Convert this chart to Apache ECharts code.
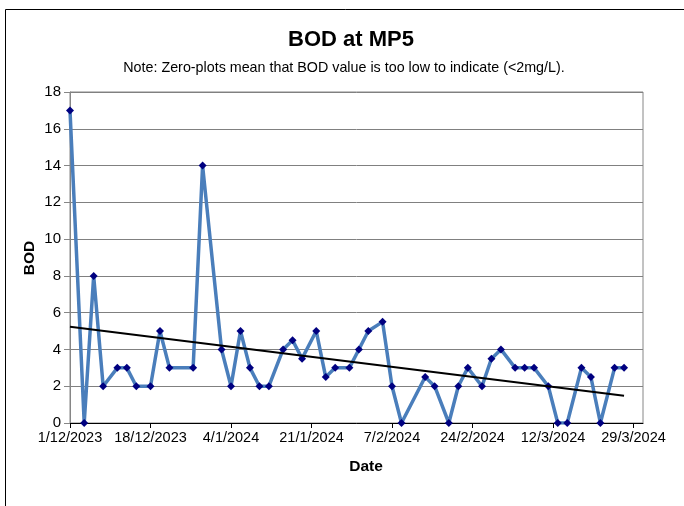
<!DOCTYPE html>
<html>
<head>
<meta charset="utf-8">
<script src="https://cdn.jsdelivr.net/npm/echarts@6/dist/echarts.min.js"></script>
<style>
html,body{margin:0;padding:0;background:#fff;}
#chart{width:684px;height:506px;}
</style>
</head>
<body>
<div id="chart"></div>
<script>
// ---- data ----
const sampleDates = [
  '2023-12-01','2023-12-04','2023-12-06','2023-12-08','2023-12-11','2023-12-13','2023-12-15',
  '2023-12-18','2023-12-20','2023-12-22','2023-12-27','2023-12-29','2024-01-02','2024-01-04',
  '2024-01-06','2024-01-08','2024-01-10','2024-01-12','2024-01-15','2024-01-17','2024-01-19',
  '2024-01-22','2024-01-24','2024-01-26','2024-01-29','2024-01-31','2024-02-02','2024-02-05',
  '2024-02-07','2024-02-09','2024-02-14','2024-02-16','2024-02-19','2024-02-21','2024-02-23',
  '2024-02-26','2024-02-28','2024-03-01','2024-03-04','2024-03-06','2024-03-08','2024-03-11',
  '2024-03-13','2024-03-15','2024-03-18','2024-03-20','2024-03-22','2024-03-25','2024-03-27'
];
const bodValues = [
  17, 0, 8, 2, 3, 3, 2,
  2, 5, 3, 3, 14, 4, 2,
  5, 3, 2, 2, 4, 4.5, 3.5,
  5, 2.5, 3, 3, 4, 5, 5.5,
  2, 0, 2.5, 2, 0, 2, 3,
  2, 3.5, 4, 3, 3, 3, 2,
  0, 0, 3, 2.5, 0, 3, 3
];
const xTickLabels = ['1/12/2023','18/12/2023','4/1/2024','21/1/2024','7/2/2024','24/2/2024','12/3/2024','29/3/2024'];
const yTicks = [0, 2, 4, 6, 8, 10, 12, 14, 16, 18];
const axisStartDate = '2023-12-01';
const axisEndDate = '2024-03-31';
const titleText = 'BOD at MP5';
const subtitleText = 'Note: Zero-plots mean that BOD value is too low to indicate (<2mg/L).';
const xName = 'Date';
const yName = 'BOD';

// ---- helpers ----
const DAY = 86400000;
const t0 = Date.parse(axisStartDate);
const isoToDay = s => Math.round((Date.parse(s) - t0) / DAY);
const dmyToDay = s => { const p = s.split('/'); return isoToDay(p[2] + '-' + p[1].padStart(2,'0') + '-' + p[0].padStart(2,'0')); };

const xs = sampleDates.map(isoToDay);
const points = xs.map((d, i) => [d, bodValues[i]]);
const tickDays = xTickLabels.map(dmyToDay);
const xMax = isoToDay(axisEndDate);

// linear trendline (least squares)
const n = xs.length;
const mx = xs.reduce((a,b)=>a+b,0)/n;
const my = bodValues.reduce((a,b)=>a+b,0)/n;
let sxy = 0, sxx = 0;
for (let i = 0; i < n; i++) { sxy += (xs[i]-mx)*(bodValues[i]-my); sxx += (xs[i]-mx)*(xs[i]-mx); }
const slope = sxy / sxx, icpt = my - slope * mx;
const trend = [[xs[0], icpt + slope*xs[0]], [xs[n-1], icpt + slope*xs[n-1]]];

const FONT = '"Liberation Sans", Arial, sans-serif';
const chart = echarts.init(document.getElementById('chart'), null, {renderer: 'canvas'});
chart.setOption({
  animation: false,
  backgroundColor: '#fff',
  grid: {left: 70, top: 92, width: 573, height: 331, show: true, borderColor: '#868686', borderWidth: 1, backgroundColor: 'transparent', containLabel: false},
  xAxis: {
    type: 'value', min: 0, max: xMax,
    axisLine: {show: true, onZero: false, lineStyle: {color: '#000', width: 1}},
    axisTick: {show: true, inside: false, length: 5, lineStyle: {color: '#000'}, customValues: tickDays},
    axisLabel: {show: true, customValues: tickDays, margin: 7, color: '#000', fontFamily: FONT, fontSize: 14.5,
      formatter: v => { const i = tickDays.indexOf(Math.round(v)); return i >= 0 ? xTickLabels[i] : ''; }},
    splitLine: {show: false}
  },
  yAxis: {
    type: 'value', min: yTicks[0], max: yTicks[yTicks.length-1], interval: yTicks[1]-yTicks[0],
    axisLine: {show: true, lineStyle: {color: '#868686'}},
    axisTick: {show: true, inside: false, length: 6, lineStyle: {color: '#868686'}},
    axisLabel: {color: '#000', fontFamily: FONT, fontSize: 15, margin: 9},
    splitLine: {show: true, lineStyle: {color: '#808080', width: 1}}
  },
  series: [
    {
      type: 'line', data: points, z: 3,
      lineStyle: {color: '#4A7EBB', width: 3.5},
      symbol: 'diamond', symbolSize: 8,
      itemStyle: {color: '#000080', borderWidth: 0},
      emphasis: {disabled: true}
    },
    {
      type: 'line', data: trend, z: 4, symbol: 'none',
      lineStyle: {color: '#000', width: 2},
      emphasis: {disabled: true}
    }
  ],
  graphic: [
    {type: 'rect', shape: {x: 5.5, y: 9.5, width: 720, height: 520}, style: {fill: 'none', stroke: '#000', lineWidth: 1}, silent: true},
    {type: 'text', x: 351, y: 40, style: {text: titleText, fontFamily: FONT, fontWeight: 'bold', fontSize: 22, fill: '#000', textAlign: 'center', textVerticalAlign: 'middle'}},
    {type: 'text', x: 344, y: 68, style: {text: subtitleText, fontFamily: FONT, fontSize: 14.3, fill: '#000', textAlign: 'center', textVerticalAlign: 'middle'}},
    {type: 'text', x: 366, y: 467, style: {text: xName, fontFamily: FONT, fontWeight: 'bold', fontSize: 15.5, fill: '#000', textAlign: 'center', textVerticalAlign: 'middle'}},
    {type: 'text', x: 30, y: 258, rotation: Math.PI/2, style: {text: yName, fontFamily: FONT, fontWeight: 'bold', fontSize: 15.5, fill: '#000', textAlign: 'center', textVerticalAlign: 'middle'}}
  ]
});
</script>
</body>
</html>
